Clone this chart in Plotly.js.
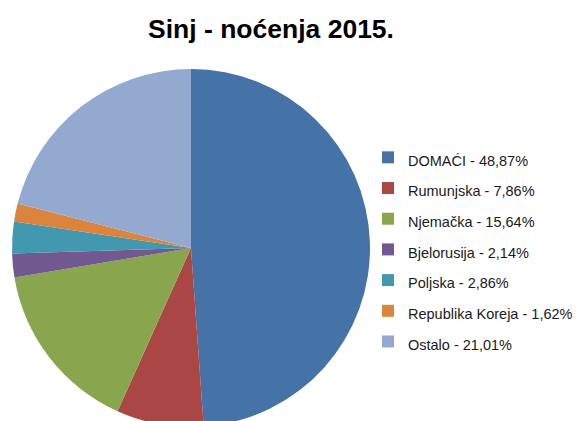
<!DOCTYPE html>
<html>
<head>
<meta charset="utf-8">
<script src="https://cdn.plot.ly/plotly-3.0.1.min.js"></script>
<style>
html,body{margin:0;padding:0;overflow:hidden;background:#fff;}
#chart{width:579px;height:440px;}
</style>
</head>
<body>
<div id="chart"></div>
<script>
const categories = ["DOMAĆI", "Rumunjska", "Njemačka", "Bjelorusija", "Poljska", "Republika Koreja", "Ostalo"];
const percentLabels = ["48,87%", "7,86%", "15,64%", "2,14%", "2,86%", "1,62%", "21,01%"];
const values = [48.87, 7.86, 15.64, 2.14, 2.86, 1.62, 21.01];
const colors = ["#4572A7", "#AA4643", "#89A54E", "#71588F", "#4198AF", "#DB843D", "#93A9CF"];

const W = 579, H = 440;
const cx = 191, cy = 248, r = 179;

const legendLabels = categories.map((c, i) =>
  '<span style="font-size:14.5px">' + c + ' - ' + percentLabels[i] + '</span>');

const trace = {
  type: 'pie',
  labels: legendLabels,
  values: values,
  sort: false,
  direction: 'clockwise',
  rotation: 0,
  textinfo: 'none',
  hoverinfo: 'none',
  marker: {colors: colors, line: {width: 0}},
  domain: {
    x: [(cx - r) / W, (cx + r) / W],
    y: [(H - (cy + r)) / H, (H - (cy - r)) / H]
  }
};

const layout = {
  width: W, height: H,
  margin: {l: 0, r: 0, t: 0, b: 0},
  paper_bgcolor: '#fff',
  font: {family: 'Liberation Sans, Arial, sans-serif', color: '#1a1a1a'},
  title: {
    text: '<b>Sinj - noćenja 2015.</b>',
    font: {family: 'Liberation Sans, Arial, sans-serif', size: 26.5, color: '#000'},
    x: 271 / W, xanchor: 'center', xref: 'container',
    y: 1 - 29 / H, yanchor: 'middle', yref: 'container'
  },
  showlegend: true,
  legend: {
    x: 368 / W, xanchor: 'left',
    y: 1 - 137 / H, yanchor: 'top',
    font: {size: 21.3, color: '#1a1a1a'},
    bgcolor: 'rgba(0,0,0,0)',
    itemclick: false, itemdoubleclick: false
  }
};

Plotly.newPlot('chart', [trace], layout, {displayModeBar: false, staticPlot: true});
</script>
</body>
</html>
